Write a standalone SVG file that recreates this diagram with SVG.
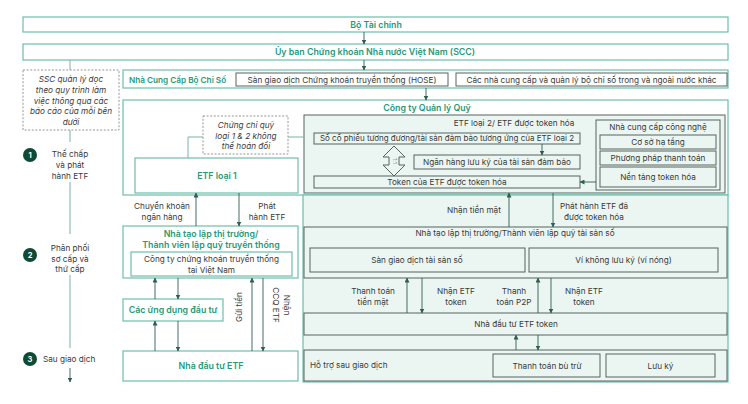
<svg xmlns="http://www.w3.org/2000/svg" width="748" height="404" viewBox="0 0 748 404">
<defs>
<marker id="ah" markerWidth="5" markerHeight="5" refX="4.5" refY="2.5" orient="auto" markerUnits="userSpaceOnUse"><path d="M0,0 L5,2.5 L0,5 z" fill="#2f5f50"/></marker>
<style>
.tb{fill:#fff;stroke:#6cbfaa;stroke-width:1.2}
.tm{fill:#ebf6f2;stroke:#6cbfaa;stroke-width:1.2}
.gb{fill:none;stroke:#56625e;stroke-width:1}
.gm{fill:#ebf6f2;stroke:#56625e;stroke-width:1}
.db{fill:#fff;stroke:#8a8a8a;stroke-width:0.9;stroke-dasharray:2 1.6}
.h{font-family:Inter,"Noto Sans",sans-serif;font-weight:600;fill:#1f9a7b;font-size:8.8px;text-anchor:middle}
.t{font-family:Inter,"Noto Sans",sans-serif;fill:#3a3a3a;font-size:8.2px;text-anchor:middle}
.i{font-family:Inter,"Noto Sans",sans-serif;fill:#3a3a3a;font-size:8.2px;text-anchor:middle;font-style:italic}
.n{font-family:Inter,"Noto Sans",sans-serif;fill:#fff;font-size:7.5px;font-weight:700;text-anchor:middle}
.ln{stroke:#2f5f50;stroke-width:0.9;fill:none}
.lt{stroke:#7ab3a4;stroke-width:1;fill:none}
</style>
</defs>
<rect width="748" height="404" fill="#fff"/>

<g id="bo-tai-chinh"><rect class="tb" x="23" y="17" width="705" height="15"/><text class="h" x="376" y="27.8">Bộ Tài chính</text></g>
<g id="uy-ban"><rect class="tb" x="23" y="44" width="705" height="16"/><text class="h" x="375" y="55.3">Ủy ban Chứng khoán Nhà nước Việt Nam (SCC)</text></g>
<g id="ssc-note"><rect class="db" x="23" y="70" width="96" height="60"/>
<text class="i" x="71" y="82">SSC quản lý dọc</text><text class="i" x="71" y="93">theo quy trình làm</text><text class="i" x="71" y="103.5">việc thông qua các</text><text class="i" x="71" y="114">báo cáo của mỗi bên</text><text class="i" x="71" y="124.5">dưới</text></g>

<g id="nha-cung-cap"><rect class="tb" x="123" y="70" width="605" height="18"/>
<text class="h" x="129" y="82.5" style="text-anchor:start;font-size:8.2px">Nhà Cung Cấp Bộ Chỉ Số</text>
<rect class="gb" x="236" y="73" width="212" height="13"/><text class="t" x="342" y="82.6">Sàn giao dịch Chứng khoán truyền thống (HOSE)</text>
<rect class="gb" x="456" y="73" width="271" height="13"/><text class="t" x="591.5" y="82.6">Các nhà cung cấp và quản lý bộ chỉ số trong và ngoài nước khác</text></g>

<g id="cong-ty"><rect class="tb" x="123" y="100" width="605" height="95"/><text class="h" x="427" y="111">Công ty Quản lý Quỹ</text></g>
<g id="mint-region"><rect class="tm" x="303" y="195" width="425" height="187"/></g>

<g id="chung-chi"><rect class="db" x="203" y="116" width="85" height="38"/>
<text class="i" x="246" y="128">Chứng chỉ quỹ</text><text class="i" x="246" y="138.5">loại 1 &amp; 2 không</text><text class="i" x="246" y="149">thể hoán đổi</text></g>
<g id="etf-loai-1"><rect class="tb" x="135" y="158" width="163" height="35"/><text class="h" x="217" y="179">ETF loại 1</text></g>

<g id="etf-loai-2"><rect class="gm" x="304" y="115" width="421" height="78"/>
<text class="t" x="514" y="125.5">ETF loại 2/ ETF được token hóa</text>
<rect class="gb" x="314" y="133" width="266" height="11"/><text class="t" x="447" y="141.4" style="font-size:8px">Số cổ phiếu tương đương/tài sản đảm bảo tương ứng của ETF loại 2</text>
<rect class="gb" x="414" y="155" width="166" height="14"/><text class="t" x="497" y="164.9">Ngân hàng lưu ký của tài sản đảm bảo</text>
<rect class="gb" x="314" y="176" width="266" height="12"/><text class="t" x="447" y="184.9">Token của ETF được token hóa</text>
<polygon class="gb" points="394,146 405,157 399,157 399,165 405,165 394,176 383,165 389,165 389,157 383,157"/>
<text class="t" x="0" y="0" style="font-size:5px" transform="translate(392.5,161) rotate(90)">1:1</text></g>

<g id="cong-nghe"><rect class="gb" x="596" y="120" width="124" height="70"/>
<text class="t" x="658" y="130">Nhà cung cấp công nghệ</text>
<rect class="gb" x="600" y="135" width="116" height="14"/><text class="t" x="658" y="144.9">Cơ sở hạ tầng</text>
<rect class="gb" x="600" y="151" width="116" height="14"/><text class="t" x="658" y="160.9">Phương pháp thanh toán</text>
<rect class="gb" x="600" y="167" width="116" height="20"/><text class="t" x="658" y="179.9">Nền tảng token hóa</text></g>

<g id="nha-tao-lap-truyen-thong"><rect class="tb" x="123" y="226" width="175" height="52"/>
<text class="h" x="211" y="237">Nhà tạo lập thị trường/</text><text class="h" x="211" y="248">Thành viên lập quỹ truyền thống</text>
<rect class="tb" x="131" y="252" width="161" height="24"/><text class="t" x="211.5" y="262">Công ty chứng khoán truyền thống</text><text class="t" x="211.5" y="273">tại Việt Nam</text></g>
<g id="ung-dung"><rect class="tb" x="123" y="299" width="100" height="22"/><text class="h" x="173" y="313">Các ứng dụng đầu tư</text></g>
<g id="nha-dau-tu-etf"><rect class="tb" x="123" y="351" width="175" height="30"/><text class="h" x="211" y="369">Nhà đầu tư ETF</text></g>

<g id="nha-tao-lap-so"><rect class="gb" x="304" y="227" width="423" height="51"/>
<text class="t" x="515" y="236">Nhà tạo lập thị trường/Thành viên lập quỹ tài sản số</text>
<rect class="gb" x="310" y="248" width="215" height="24"/><text class="t" x="417" y="262.9">Sàn giao dịch tài sản số</text>
<rect class="gb" x="529" y="248" width="189" height="24"/><text class="t" x="623.5" y="262.9">Ví không lưu ký (ví nóng)</text></g>
<g id="nha-dau-tu-token"><rect class="gb" x="304" y="313" width="423" height="22"/><text class="t" x="516" y="327">Nhà đầu tư ETF token</text></g>
<g id="ho-tro"><rect class="gb" x="304" y="350" width="423" height="31"/>
<text class="t" x="310" y="368" style="text-anchor:start">Hỗ trợ sau giao dịch</text>
<rect class="gb" x="493" y="354" width="107" height="23"/><text class="t" x="547" y="368.5">Thanh toán bù trừ</text>
<rect class="gb" x="606" y="354" width="109" height="23"/><text class="t" x="660.5" y="368.5">Lưu ký</text></g>

<g id="timeline">
<line class="lt" x1="70" y1="130" x2="70" y2="142"/>
<line class="lt" x1="70" y1="182" x2="70" y2="234"/>
<line class="lt" x1="70" y1="275" x2="70" y2="348"/>
<line class="ln" x1="70" y1="368" x2="70" y2="382" marker-end="url(#ah)"/>
<circle cx="30" cy="155" r="7" fill="#0e4a34"/><text class="n" x="30" y="158">1</text>
<circle cx="30" cy="255" r="7" fill="#0e4a34"/><text class="n" x="30" y="258">2</text>
<circle cx="30" cy="359" r="7" fill="#0e4a34"/><text class="n" x="30" y="362">3</text>
<text class="t" x="70" y="157">Thế chấp</text><text class="t" x="70" y="168">và phát</text><text class="t" x="70" y="178.5">hành ETF</text>
<text class="t" x="70" y="251">Phân phối</text><text class="t" x="70" y="261.5">sơ cấp và</text><text class="t" x="70" y="272">thứ cấp</text>
<text class="t" x="43" y="362" style="text-anchor:start">Sau giao dịch</text>
</g>

<g id="connectors">
<line class="ln" x1="364" y1="32" x2="364" y2="44" marker-end="url(#ah)"/>
<line class="ln" x1="364" y1="60" x2="364" y2="70" marker-end="url(#ah)"/>
<line class="lt" x1="70" y1="60" x2="70" y2="70"/>
<line class="ln" x1="426" y1="88" x2="426" y2="100" marker-end="url(#ah)"/>
<polyline class="lt" points="203,137 188,137 188,158"/>
<line class="lt" x1="288" y1="137" x2="304" y2="137"/>
<line class="ln" x1="542" y1="144" x2="542" y2="155" marker-end="url(#ah)"/>
<line class="ln" x1="596" y1="182" x2="580" y2="182" marker-end="url(#ah)"/>
<line class="ln" x1="196" y1="226" x2="196" y2="193" marker-end="url(#ah)"/>
<line class="ln" x1="239" y1="193" x2="239" y2="226" marker-end="url(#ah)"/>
<line class="ln" x1="155" y1="299" x2="155" y2="278" marker-end="url(#ah)"/>
<line class="ln" x1="178" y1="278" x2="178" y2="299" marker-end="url(#ah)"/>
<line class="ln" x1="155" y1="351" x2="155" y2="321" marker-end="url(#ah)"/>
<line class="ln" x1="178" y1="321" x2="178" y2="351" marker-end="url(#ah)"/>
<line class="ln" x1="252" y1="351" x2="252" y2="278" marker-end="url(#ah)"/>
<line class="ln" x1="263" y1="278" x2="263" y2="351" marker-end="url(#ah)"/>
<line class="ln" x1="509" y1="227" x2="509" y2="193" marker-end="url(#ah)"/>
<line class="ln" x1="553" y1="193" x2="553" y2="227" marker-end="url(#ah)"/>
<line class="ln" x1="407" y1="313" x2="407" y2="278" marker-end="url(#ah)"/>
<line class="ln" x1="422" y1="278" x2="422" y2="313" marker-end="url(#ah)"/>
<line class="ln" x1="538" y1="313" x2="538" y2="278" marker-end="url(#ah)"/>
<line class="ln" x1="551" y1="278" x2="551" y2="313" marker-end="url(#ah)"/>
<line class="ln" x1="516" y1="350" x2="516" y2="335" marker-end="url(#ah)"/>
<line class="ln" x1="538" y1="335" x2="538" y2="350" marker-end="url(#ah)"/>
<text class="t" x="162" y="209">Chuyển khoản</text><text class="t" x="162" y="220">ngân hàng</text>
<text class="t" x="267" y="209">Phát</text><text class="t" x="267" y="220">hành ETF</text>
<text class="t" transform="translate(242,307) rotate(-90)">Gửi tiền</text>
<text class="t" transform="translate(284,305) rotate(90)">Nhận<tspan x="0" dy="11">CCQ ETF</tspan></text>
<text class="t" x="474" y="213">Nhận tiền mặt</text>
<text class="t" x="594" y="209">Phát hành ETF đã</text><text class="t" x="594" y="220">được token hóa</text>
<text class="t" x="373" y="294">Thanh toán</text><text class="t" x="373" y="304.5">tiền mặt</text>
<text class="t" x="456" y="294">Nhận ETF</text><text class="t" x="456" y="304.5">token</text>
<text class="t" x="514" y="294">Thanh</text><text class="t" x="514" y="304.5">toán P2P</text>
<text class="t" x="584" y="294">Nhận ETF</text><text class="t" x="584" y="304.5">token</text>
</g>
</svg>
